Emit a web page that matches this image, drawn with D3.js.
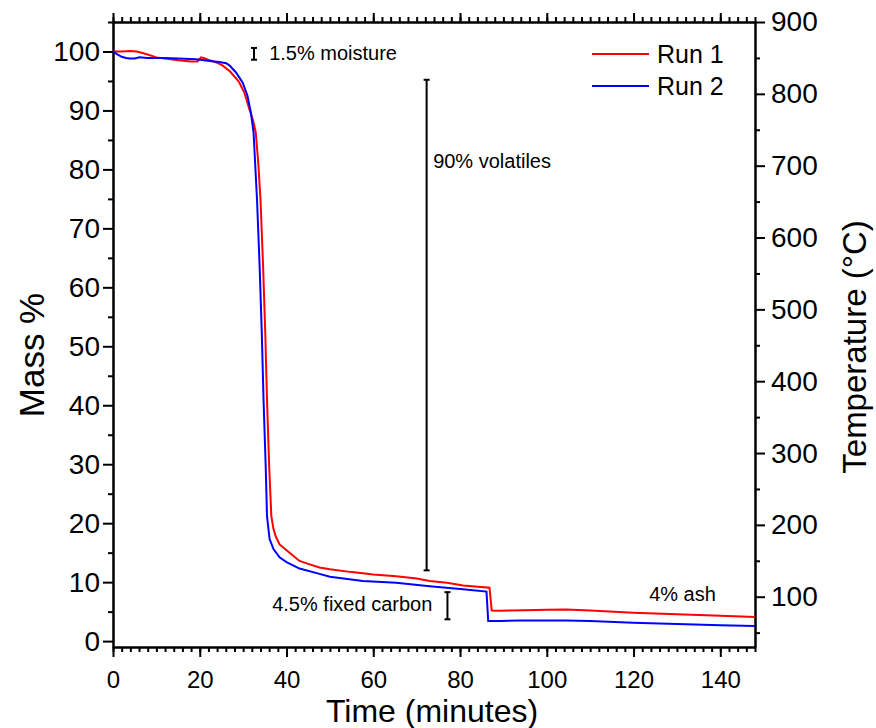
<!DOCTYPE html>
<html>
<head>
<meta charset="utf-8">
<script src="https://cdn.jsdelivr.net/npm/d3@7/dist/d3.min.js"></script>
<style>
  body { margin: 0; background: #fff; }
  svg { display: block; font-family: 'Liberation Sans', Arial, sans-serif; }
</style>
</head>
<body>
<svg id="chart" width="876" height="728"></svg>
<script>
// mass loss curves (time in minutes, mass in %)
var run1Time = [0, 2, 4, 5.5, 7, 8, 10, 12, 15, 18, 19.5, 20.3, 21.2, 22.3, 24, 25.3, 27, 29, 30.3, 31.4, 32.3, 32.9, 33.5, 34.0, 34.6, 35.1, 35.5, 36.0, 36.5, 37.0, 37.5, 38.4, 40, 43, 45, 47.6, 50, 55, 57.6, 60, 65.3, 70, 73, 77, 80.7, 86.8, 87.3, 89, 95, 100, 104.5, 110, 119.9, 130, 140, 148]
var run1Mass = [100, 100, 100.1, 100, 99.7, 99.5, 99.0, 98.8, 98.5, 98.3, 98.3, 99.0, 98.8, 98.5, 98.1, 97.6, 96.6, 94.9, 93.0, 90.3, 88.3, 86.3, 81, 74.9, 63.6, 52.3, 41, 29.7, 21.2, 19.0, 17.8, 16.4, 15.4, 13.6, 13.1, 12.5, 12.2, 11.7, 11.5, 11.3, 11.0, 10.6, 10.2, 9.9, 9.45, 9.05, 5.2, 5.15, 5.25, 5.3, 5.38, 5.2, 4.82, 4.55, 4.3, 4.1]

var run2Time = [0, 1, 2, 3, 3.8, 5, 6.1, 8, 11.5, 15, 19.2, 22.3, 24.5, 26.1, 26.9, 28.4, 29.9, 31.0, 31.8, 32.4, 33.2, 33.8, 34.3, 34.7, 35.2, 35.5, 36.1, 37, 38.4, 40, 43, 47.6, 50, 57.6, 65.3, 73, 80.7, 86.1, 86.5, 89, 93.8, 100, 104.5, 110, 119.9, 130, 140, 148]
var run2Mass = [100, 99.5, 99.1, 98.9, 98.8, 98.8, 99.0, 98.9, 98.9, 98.8, 98.7, 98.4, 98.2, 98.0, 97.6, 96.4, 94.7, 92.5, 89.6, 86.3, 74.9, 63.6, 52.3, 41, 29.7, 21.2, 17.3, 15.6, 14.2, 13.4, 12.3, 11.4, 10.9, 10.2, 9.9, 9.3, 8.8, 8.4, 3.4, 3.4, 3.5, 3.5, 3.5, 3.4, 3.12, 2.9, 2.7, 2.55]

var seriesNames = ['Run 1', 'Run 2']
var seriesColors = ['#ff0000', '#0000ff']

var timeTicks = [0, 20, 40, 60, 80, 100, 120, 140]
var massTicks = [0, 10, 20, 30, 40, 50, 60, 70, 80, 90, 100]
var tempTicks = [100, 200, 300, 400, 500, 600, 700, 800, 900]

// annotation bars (time, low, high) and labels
var barTime = [32.5, 72.3, 77.1]
var barLow = [98.6, 12.0, 3.7]
var barHigh = [100.6, 95.2, 8.3]
var noteText = ['1.5% moisture', '90% volatiles', '4.5% fixed carbon', '4% ash']
var noteTime = [36.0, 73.8, 36.7, 123.6]
var noteMass = [98.5, 80.3, 5.1, 6.8]

var svg = d3.select('#chart')
var margin = {top: 22, right: 121, bottom: 81, left: 113}
var w = 876 - margin.left - margin.right
var h = 728 - margin.top - margin.bottom
var g = svg.append('g').attr('transform', 'translate(' + margin.left + ',' + margin.top + ')')

var x = d3.scaleLinear().domain([0, 148]).range([0, w])
var y = d3.scaleLinear().domain([-1, 105]).range([h, 0])
var yT = d3.scaleLinear().domain([30, 900]).range([h, 0])

function range (a, b, s) {
  var out = []
  for (var v = a; v <= b + 1e-9; v += s) out.push(v)
  return out
}

function styleAxis (sel, size) {
  sel.selectAll('path').attr('stroke', '#000').attr('stroke-width', 2)
  sel.selectAll('line').attr('stroke', '#000').attr('stroke-width', 2)
  sel.selectAll('text').attr('fill', '#000').style('font-size', size + 'px').style('font-family', "'Liberation Sans', Arial, sans-serif")
}

// minor ticks first
g.append('g').attr('transform', 'translate(0,' + h + ')')
  .call(d3.axisBottom(x).tickValues(range(0, 148, 2)).tickSize(5).tickFormat('').tickSizeOuter(0))
  .call(styleAxis, 0)
g.append('g')
  .call(d3.axisTop(x).tickValues(range(0, 148, 2)).tickSize(5).tickFormat('').tickSizeOuter(0))
  .call(styleAxis, 0)
g.append('g')
  .call(d3.axisLeft(y).tickValues(range(5, 105, 10)).tickSize(5).tickFormat('').tickSizeOuter(0))
  .call(styleAxis, 0)
g.append('g').attr('transform', 'translate(' + w + ',0)')
  .call(d3.axisRight(yT).tickValues(range(50, 900, 100)).tickSize(5).tickFormat('').tickSizeOuter(0))
  .call(styleAxis, 0)

// major ticks
g.append('g').attr('transform', 'translate(0,' + h + ')')
  .call(d3.axisBottom(x).tickValues(timeTicks).tickSize(10).tickPadding(14).tickSizeOuter(0))
  .call(styleAxis, 24)
g.append('g')
  .call(d3.axisTop(x).tickValues(timeTicks).tickSize(9).tickFormat('').tickSizeOuter(0))
  .call(styleAxis, 0)
g.append('g')
  .call(d3.axisLeft(y).tickValues(massTicks).tickSize(10).tickPadding(3).tickSizeOuter(0))
  .call(styleAxis, 28)
g.append('g').attr('transform', 'translate(' + w + ',0)')
  .call(d3.axisRight(yT).tickValues(tempTicks).tickSize(10).tickPadding(6).tickSizeOuter(0))
  .call(styleAxis, 28)

// curves
var line = d3.line()
  .x(function (d) { return x(d[0]) })
  .y(function (d) { return y(d[1]) })

var runs = [d3.zip(run1Time, run1Mass), d3.zip(run2Time, run2Mass)]
runs.forEach(function (pts, i) {
  g.append('path')
    .datum(pts)
    .attr('fill', 'none')
    .attr('stroke', seriesColors[i])
    .attr('stroke-width', 2)
    .attr('d', line)
})

// annotation bars
barTime.forEach(function (t, i) {
  var bx = x(t)
  var bar = g.append('g').attr('stroke', '#000').attr('stroke-width', 2)
  bar.append('line').attr('x1', bx).attr('x2', bx).attr('y1', y(barLow[i])).attr('y2', y(barHigh[i]))
  bar.append('line').attr('x1', bx - 3).attr('x2', bx + 3).attr('y1', y(barLow[i])).attr('y2', y(barLow[i]))
  bar.append('line').attr('x1', bx - 3).attr('x2', bx + 3).attr('y1', y(barHigh[i])).attr('y2', y(barHigh[i]))
})

noteText.forEach(function (s, i) {
  g.append('text')
    .attr('x', x(noteTime[i]))
    .attr('y', y(noteMass[i]))
    .style('font-size', '20px')
    .attr('fill', '#000')
    .text(s)
})

// legend
var leg = g.append('g').attr('transform', 'translate(479,32)')
seriesNames.forEach(function (name, i) {
  leg.append('line')
    .attr('x1', 0).attr('x2', 57)
    .attr('y1', i * 32).attr('y2', i * 32)
    .attr('stroke', seriesColors[i]).attr('stroke-width', 2)
  leg.append('text')
    .attr('x', 65).attr('y', i * 32 + 9)
    .style('font-size', '25px')
    .text(name)
})

// axis titles
svg.append('text')
  .attr('x', 432).attr('y', 722)
  .attr('text-anchor', 'middle')
  .style('font-size', '32px')
  .text('Time (minutes)')
svg.append('text')
  .attr('transform', 'translate(44,355) rotate(-90)')
  .attr('text-anchor', 'middle')
  .style('font-size', '35px')
  .text('Mass %')
svg.append('text')
  .attr('transform', 'translate(866,347) rotate(-90)')
  .attr('text-anchor', 'middle')
  .style('font-size', '33px')
  .text('Temperature (\u00b0C)')
</script>
</body>
</html>
